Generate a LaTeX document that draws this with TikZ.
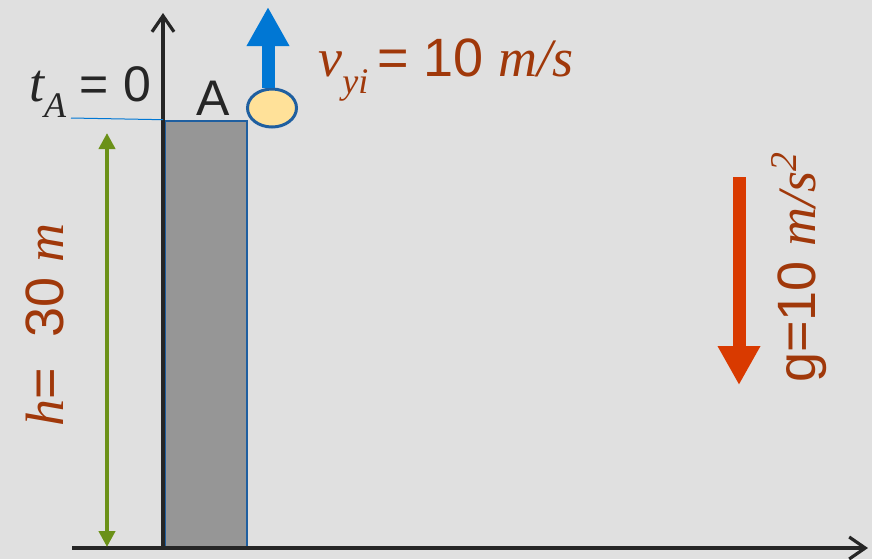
\documentclass[tikz,border=0pt]{standalone}
\usepackage{fontspec}
\setmainfont{Liberation Sans}
\newfontfamily\serifit{Liberation Serif}
\usetikzlibrary{arrows.meta,shapes.geometric}
\definecolor{bggray}{HTML}{E0E0E0}
\definecolor{axisgray}{HTML}{262626}
\definecolor{wallgray}{HTML}{969696}
\definecolor{edgeblue}{HTML}{1F5FA0}
\definecolor{velblue}{HTML}{0077D4}
\definecolor{ballfill}{HTML}{FFE199}
\definecolor{hgreen}{HTML}{6B9118}
\definecolor{gred}{HTML}{D93A00}
\definecolor{labelbrown}{HTML}{A0380A}
\newcommand{\vi}[1]{{\serifit\itshape #1}}
\newcommand{\lowsub}[1]{\raisebox{-0.33em}{\fontsize{18}{20}\selectfont\vi{#1}}}

\begin{document}
\begin{tikzpicture}[
  x=0.5pt, y=-0.5pt,
  axis/.style={line width=1.6pt, draw=axisgray, -{Straight Barb[length=8pt,width=11pt,line width=1.6pt]}},
  bigarrow/.style={line width=6.5pt, -{Triangle[length=19.5pt,width=20pt]}},
  building/.style={rectangle, draw=edgeblue, line width=1.3pt, fill=wallgray, minimum width=41pt, minimum height=213.5pt, inner sep=0pt},
  ball/.style={ellipse, draw=edgeblue, line width=1.5pt, fill=ballfill, minimum width=24.5pt, minimum height=19pt, inner sep=0pt},
  lbl/.style={inner sep=0pt, font=\fontsize{25}{30}\selectfont},
  biglbl/.style={inner sep=0pt, font=\fontsize{27}{32}\selectfont, text=labelbrown}
]
\useasboundingbox[fill=bggray] (0,0) rectangle (872,559);

% building and ball
\node[building] (bldg) at (206,334.5) {};
\node[ball] (ball) at (272,108) {};

% axes
\coordinate (origin) at (163,548);
\coordinate (ytop) at (163,13);
\coordinate (xleft) at (72,548);
\coordinate (xright) at (868,548);
\draw[axis] (origin) -- (ytop);
\draw[axis] (xleft) -- (xright);

% top level mark
\coordinate (markl) at (71,118);
\draw[velblue, line width=0.5pt] (markl) -- (bldg.north west -| origin);

% labels at the top
\node[lbl, text=axisgray, anchor=base] (tA) at (90,101) {{\fontsize{27}{30}\selectfont\vi{t}}\lowsub{A} = 0};
\node[lbl, text=axisgray] (A) at (213,98) {A};

% initial velocity
\coordinate (vtip) at (268,7);
\draw[bigarrow, velblue] (ball.north -| vtip) -- (vtip);
\node[biglbl, anchor=base west] (vyi) at (318,76) {\vi{v}\lowsub{yi}\,= 10 \vi{m/s}};

% height
\coordinate (htop) at (107,133);
\coordinate (hbot) at (107,547);
\draw[hgreen, line width=2pt, {Triangle[length=8pt,width=8pt]}-{Triangle[length=8pt,width=8pt]}] (htop) -- (hbot);
\node[biglbl, rotate=90, anchor=base] (hlbl) at (63,325) {\vi{h}=\ \ 30 \vi{m}};

% gravity
\coordinate (gtop) at (739,177);
\coordinate (gtip) at (739,385);
\draw[bigarrow, gred] (gtop) -- (gtip);
\node[biglbl, rotate=90, anchor=base] (glbl) at (815,267) {g=10 \vi{m/s}\textsuperscript{\vi{2}}};
\end{tikzpicture}
\end{document}
